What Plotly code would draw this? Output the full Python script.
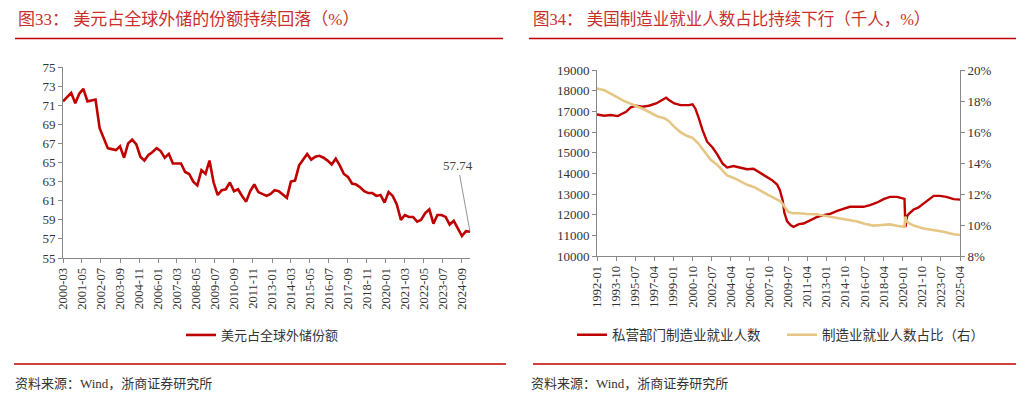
import plotly.graph_objects as go
import pandas as pd

# ---------------- Left chart data (quarterly, 2000-03 .. 2025-03) ----------------
usd_dates = pd.date_range("2000-03-01", periods=101, freq="3MS")
usd_share = [71.4, 71.9, 72.3, 71.2, 72.2, 72.7, 71.4, 71.5, 71.6, 68.6,
             67.5, 66.5, 66.4, 66.3, 66.7, 65.5, 67.0, 67.4, 66.9, 65.6,
             65.2, 65.8, 66.1, 66.5, 66.2, 65.5, 65.9, 64.9, 64.9, 64.9,
             64.0, 63.8, 63.0, 62.6, 64.2, 63.8, 65.2, 62.9, 61.6, 62.1,
             62.2, 62.9, 62.0, 62.2, 61.5, 60.9, 62.0, 62.7, 61.9, 61.7,
             61.5, 61.7, 62.1, 62.0, 61.6, 61.3, 63.0, 63.1, 64.7, 65.3,
             65.9, 65.3, 65.6, 65.7, 65.5, 65.2, 64.8, 65.4, 64.7, 63.8,
             63.5, 62.8, 62.7, 62.4, 62.0, 61.8, 61.8, 61.5, 61.6, 60.8,
             61.9, 61.5, 60.6, 59.0, 59.5, 59.3, 59.3, 58.8, 59.0, 59.7,
             60.1, 58.6, 59.5, 59.5, 59.3, 58.5, 58.9, 58.1, 57.3, 57.8,
             57.74]
left_ticks = ["2000-03", "2001-05", "2002-07", "2003-09", "2004-11", "2006-01",
              "2007-03", "2008-05", "2009-07", "2010-09", "2011-11", "2013-01",
              "2014-03", "2015-05", "2016-07", "2017-09", "2018-11", "2020-01",
              "2021-03", "2022-05", "2023-07", "2024-09"]

# ---------------- Right chart data ----------------
emp_dates = ["1992-01", "1992-09", "1993-04", "1993-12", "1994-03", "1994-09", "1995-02",
             "1995-08", "1996-03", "1996-10", "1997-06", "1997-11", "1998-05", "1998-08",
             "1999-02", "1999-09", "2000-06", "2000-10", "2001-01", "2001-05", "2001-09",
             "2002-02", "2002-08", "2003-01", "2003-07", "2003-12", "2004-07", "2005-03",
             "2005-10", "2006-05", "2007-01", "2007-07", "2008-01", "2008-07", "2008-10",
             "2009-01", "2009-03", "2009-06", "2009-10", "2010-01", "2010-07", "2010-12",
             "2011-08", "2012-03", "2012-10", "2013-06", "2014-01", "2014-08", "2015-03",
             "2015-11", "2016-06", "2017-01", "2017-09", "2018-04", "2018-11", "2019-07",
             "2020-01", "2020-03", "2020-04", "2020-05", "2020-06", "2020-08", "2021-01",
             "2021-06", "2021-12", "2022-05", "2022-11", "2023-06", "2024-01", "2024-09",
             "2025-04"]
emp_values = [16850, 16790, 16820, 16770, 16850, 16980, 17190,
              17270, 17220, 17270, 17380, 17510, 17660, 17550,
              17380, 17300, 17300, 17340, 17140, 16660, 16090,
              15530, 15250, 14930, 14480, 14280, 14350, 14270,
              14200, 14220, 14000, 13850, 13680, 13460, 13180,
              12700, 12090, 11680, 11490, 11410, 11540, 11570,
              11760, 11890, 11970, 12050, 12180, 12290, 12380,
              12380, 12380, 12460, 12590, 12750, 12860, 12860,
              12780, 12760, 11400, 11600, 11950, 12050, 12250,
              12340, 12540, 12750, 12910, 12910, 12860, 12750,
              12730]

share_dates = ["1992-01", "1992-09", "1993-04", "1993-12", "1994-07", "1995-02", "1995-09",
               "1996-05", "1996-12", "1997-07", "1998-03", "1998-08", "1999-02", "1999-09",
               "2000-05", "2000-10", "2001-04", "2001-11", "2002-06", "2003-01", "2003-07",
               "2003-12", "2004-08", "2005-03", "2005-10", "2006-06", "2007-01", "2007-09",
               "2008-04", "2008-11", "2009-03", "2009-07", "2009-12", "2010-07", "2011-04",
               "2012-02", "2012-11", "2013-08", "2014-05", "2015-02", "2015-11", "2016-08",
               "2017-05", "2018-02", "2018-11", "2019-08", "2020-03", "2020-04", "2020-05",
               "2020-07", "2021-01", "2021-12", "2022-11", "2023-10", "2024-09", "2025-04"]
share_values = [18.81, 18.70, 18.47, 18.21, 17.99, 17.82, 17.67,
                17.45, 17.24, 17.02, 16.89, 16.70, 16.33, 15.98,
                15.72, 15.62, 15.29, 14.75, 14.21, 13.89, 13.50,
                13.20, 13.02, 12.81, 12.59, 12.44, 12.18, 11.94,
                11.73, 11.51, 11.19, 10.86, 10.76, 10.76, 10.71,
                10.69, 10.60, 10.50, 10.39, 10.32, 10.22, 10.06,
                9.96, 10.00, 10.04, 9.94, 9.89, 10.54, 10.30,
                10.15, 9.96, 9.78, 9.68, 9.57, 9.40, 9.35]
right_ticks = ["1992-01", "1993-10", "1995-07", "1997-04", "1999-01", "2000-10", "2002-07",
               "2004-04", "2006-01", "2007-10", "2009-07", "2011-04", "2013-01", "2014-10",
               "2016-07", "2018-04", "2020-01", "2021-10", "2023-07", "2025-04"]

RED = "#C00000"
YELLOW = "#E5C685"
TITLE_RED = "#C8302C"
FONT = "Liberation Serif, Noto Sans CJK SC"
# page body has an 8px default margin: size the figure to fill the rest of the window
OFF = 8
W, H = 1024 - OFF, 397 - OFF


def px(x):
    return (x - OFF) / W


def py(y):
    return 1 - (y - OFF) / H


fig = go.Figure()
fig.add_trace(go.Scatter(x=usd_dates, y=usd_share, mode="lines", name="美元占全球外储份额",
                         line=dict(color=RED, width=2.6), xaxis="x", yaxis="y", legend="legend"))
fig.add_trace(go.Scatter(x=emp_dates, y=emp_values, mode="lines", name="私营部门制造业就业人数",
                         line=dict(color=RED, width=2.4), xaxis="x2", yaxis="y2", legend="legend2"))
fig.add_trace(go.Scatter(x=share_dates, y=share_values, mode="lines", name="制造业就业人数占比（右）",
                         line=dict(color=YELLOW, width=2.6), xaxis="x2", yaxis="y3", legend="legend2"))

axis_common = dict(showline=True, linecolor="#888", linewidth=1, ticks="outside", ticklen=4,
                   tickcolor="#888", showgrid=False, zeroline=False, automargin=False,
                   tickfont=dict(family=FONT, size=13, color="#333"))
xdate_common = dict(axis_common, type="date", tickangle=-90,
                    tickfont=dict(family=FONT, size=12.5, color="#333"))

fig.update_layout(
    width=W, height=H, margin=dict(l=0, r=0, t=0, b=0, autoexpand=False),
    paper_bgcolor="white", plot_bgcolor="white",
    font=dict(family=FONT, color="#333"),
    xaxis=dict(xdate_common, domain=[px(63), px(470)], anchor="y",
               range=["2000-03-01", "2025-03-01"],
               tickvals=[t + "-01" for t in left_ticks], ticktext=left_ticks),
    yaxis=dict(axis_common, domain=[py(258), py(67)], anchor="x", range=[55, 75],
               tick0=55, dtick=2),
    xaxis2=dict(xdate_common, domain=[px(597), px(960)], anchor="y2",
                range=["1992-01-01", "2025-04-01"],
                tickvals=[t + "-01" for t in right_ticks], ticktext=right_ticks),
    yaxis2=dict(axis_common, domain=[py(256), py(70)], anchor="x2", range=[10000, 19000],
                dtick=1000, tickformat="d"),
    yaxis3=dict(axis_common, overlaying="y2", side="right", anchor="x2", range=[8, 20], dtick=2,
                ticksuffix="%"),
    legend=dict(orientation="h", x=px(181), y=py(335), xanchor="left", yanchor="middle",
                font=dict(family=FONT, size=13, color="#333"), bgcolor="rgba(0,0,0,0)"),
    legend2=dict(orientation="h", x=px(572), y=py(335), xanchor="left", yanchor="middle",
                 font=dict(family=FONT, size=13.5, color="#333"), bgcolor="rgba(0,0,0,0)",
                 entrywidth=165, entrywidthmode="pixels"),
    showlegend=True,
)

# data label with leader line
fig.add_annotation(x=usd_dates[-1], y=usd_share[-1], xref="x", yref="y", text=f"{usd_share[-1]:.2f}",
                   showarrow=True, arrowhead=0, arrowwidth=0.8, arrowcolor="#777", ax=-12, ay=-66,
                   font=dict(family=FONT, size=13, color="#444"))

# titles
fig.add_annotation(x=px(16), y=py(20), xref="paper", yref="paper", xanchor="left", yanchor="middle",
                   width=480, align="left",
                   text="图33： 美元占全球外储的份额持续回落（%）", showarrow=False,
                   font=dict(family=FONT, size=17, color=TITLE_RED))
fig.add_annotation(x=px(531), y=py(20), xref="paper", yref="paper", xanchor="left", yanchor="middle",
                   width=480, align="left",
                   text="图34： 美国制造业就业人数占比持续下行（千人，%）", showarrow=False,
                   font=dict(family=FONT, size=16.5, color=TITLE_RED))
# sources
for x0 in (13, 529):
    fig.add_annotation(x=px(x0), y=py(383), xref="paper", yref="paper", xanchor="left", yanchor="middle",
                       width=400, align="left",
                       text="资料来源：Wind，浙商证券研究所", showarrow=False,
                       font=dict(family=FONT, size=13, color="#333"))

# rules
for (x0, x1, y) in [(15, 503, 38.5), (529, 1017, 38.5), (14, 506, 364), (533, 1021, 364)]:
    fig.add_shape(type="line", xref="paper", yref="paper", x0=px(x0), x1=px(x1), y0=py(y), y1=py(y),
                  line=dict(color=RED, width=1.6))

fig.write_html("out.html")
